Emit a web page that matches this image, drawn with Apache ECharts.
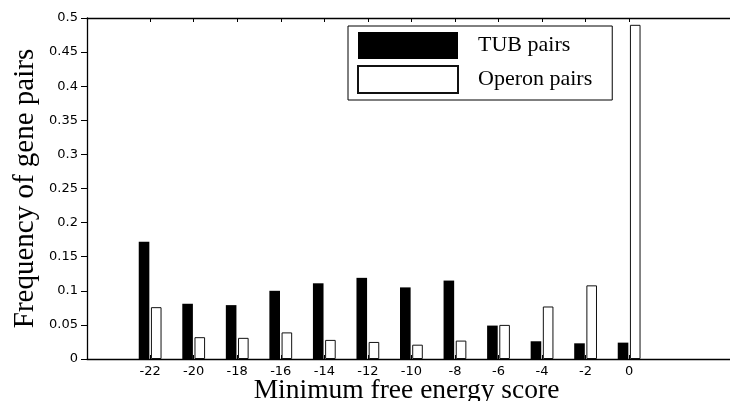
<!DOCTYPE html>
<html>
<head>
<meta charset="utf-8">
<script src="https://cdn.jsdelivr.net/npm/echarts@6/dist/echarts.min.js"></script>
<style>
  html, body { margin: 0; padding: 0; background: #fff; }
  #chart { width: 730px; height: 401px; }
</style>
</head>
<body>
<div id="chart"></div>
<script>
// Data
var scores = [-22, -20, -18, -16, -14, -12, -10, -8, -6, -4, -2, 0];
var tubPairs = [0.172, 0.081, 0.079, 0.100, 0.111, 0.119, 0.105, 0.115, 0.049, 0.026, 0.023, 0.024];
var operonPairs = [0.076, 0.032, 0.031, 0.039, 0.028, 0.025, 0.021, 0.027, 0.050, 0.077, 0.108, 0.490];
var yTicks = [0, 0.05, 0.1, 0.15, 0.2, 0.25, 0.3, 0.35, 0.4, 0.45, 0.5];

function pairs(vals) {
  return scores.map(function (s, i) { return [s, vals[i]]; });
}

var tickFont = 'DejaVu Sans';
var serif = 'Liberation Serif';

var chart = echarts.init(document.getElementById('chart'), null, { renderer: 'canvas' });
chart.setOption({
  animation: false,
  backgroundColor: '#ffffff',
  grid: { left: 87, right: -8, top: 18, bottom: 42, containLabel: false, outerBoundsMode: 'none' },
  legend: {
    orient: 'vertical',
    left: 348,
    top: 26,
    itemWidth: 100,
    itemHeight: 27,
    itemGap: 6,
    padding: [6, 20, 6, 9],
    borderColor: '#000',
    borderWidth: 1,
    backgroundColor: '#fff',
    icon: 'rect',
    textStyle: { fontFamily: serif, fontSize: 22, color: '#000', padding: [0, 0, 0, 15] },
    data: ['TUB pairs', 'Operon pairs']
  },
  xAxis: [
    {
      type: 'value',
      position: 'bottom',
      min: -24.9,
      max: 5,
      name: 'Minimum free energy score',
      nameLocation: 'middle',
      nameGap: 18,
      nameMoveOverlap: false,
      nameTextStyle: { fontFamily: serif, fontSize: 27.5, color: '#000', padding: [0, 12, 0, 0] },
      axisLine: { show: true, onZero: false, lineStyle: { color: '#000', width: 1.3 } },
      axisTick: { show: true, inside: true, length: 4, customValues: scores, lineStyle: { color: '#000' } },
      axisLabel: { customValues: scores, fontFamily: tickFont, fontSize: 13, color: '#000', margin: 6 },
      splitLine: { show: false }
    },
    {
      type: 'value',
      position: 'top',
      min: -24.9,
      max: 5,
      axisLine: { show: true, onZero: false, lineStyle: { color: '#000', width: 1.3 } },
      axisTick: { show: true, inside: true, length: 4, customValues: scores, lineStyle: { color: '#000' } },
      axisLabel: { show: false },
      splitLine: { show: false }
    }
  ],
  yAxis: [
    {
      type: 'value',
      min: 0,
      max: 0.5,
      interval: 0.05,
      name: 'Frequency of gene pairs',
      nameLocation: 'middle',
      nameGap: 47,
      nameMoveOverlap: false,
      nameTextStyle: { fontFamily: serif, fontSize: 29, color: '#000' },
      axisLine: { show: true, onZero: false, lineStyle: { color: '#000', width: 1.3 } },
      axisTick: { show: true, inside: false, length: 6, lineStyle: { color: '#000' } },
      axisLabel: {
        fontFamily: tickFont, fontSize: 13, color: '#000', margin: 9,
        formatter: function (v) { return String(+v.toFixed(2)); }
      },
      splitLine: { show: false }
    }
  ],
  series: [
    {
      name: 'TUB pairs',
      type: 'bar',
      xAxisIndex: 0,
      yAxisIndex: 0,
      barWidth: 10.6,
      barGap: '15%',
      itemStyle: { color: '#000' },
      data: pairs(tubPairs)
    },
    {
      name: 'Operon pairs',
      type: 'bar',
      xAxisIndex: 0,
      yAxisIndex: 0,
      barWidth: 10.6,
      barGap: '15%',
      itemStyle: { color: '#fff', borderColor: '#111', borderWidth: 1 },
      data: pairs(operonPairs)
    }
  ]
});
</script>
</body>
</html>
